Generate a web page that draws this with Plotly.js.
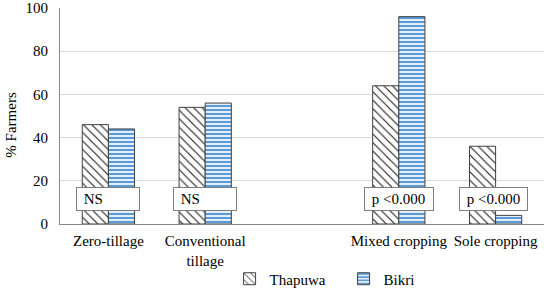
<!DOCTYPE html>
<html>
<head>
<meta charset="utf-8">
<script src="https://cdn.plot.ly/plotly-3.0.1.min.js"></script>
<style>html,body{margin:0;padding:0;background:#fff;}#chart{width:546px;height:290px;}</style>
</head>
<body>
<div id="chart"></div>
<script>
var categories = ["Zero-tillage", "Conventional<br>tillage", " ", "Mixed cropping", "Sole cropping"];
var thapuwa = [46, 54, null, 64, 36];
var bikri = [44, 56, null, 96, 4];
var seriesNames = ["Thapuwa", "Bikri"];
var boxLabels = ["NS", "NS", null, "p <0.000", "p <0.000"];
var boxY = 11.8;

var font = "Liberation Serif";

var traces = [
  {
    type: "bar", name: seriesNames[0], x: categories, y: thapuwa,
    marker: {
      color: "#ffffff",
      line: {color: "#404040", width: 1},
      pattern: {shape: "\\", fgcolor: "#1a1a1a", bgcolor: "#ffffff", size: 6, solidity: 0.18}
    },
    hoverinfo: "skip"
  },
  {
    type: "bar", name: seriesNames[1], x: categories, y: bikri,
    marker: {
      color: "#ffffff",
      line: {color: "#404040", width: 1},
      pattern: {shape: "-", fgcolor: "#5b9bd5", bgcolor: "#e4eef9", size: 4, solidity: 0.5}
    },
    hoverinfo: "skip"
  }
];

var annotations = [];
var boxWidths = [56, 56, 0, 62, 61];
var boxShift = [0, 0, 0, 0, -2];
for (var i = 0; i < categories.length; i++) {
  if (!boxLabels[i]) continue;
  annotations.push({
    x: categories[i], y: boxY, xref: "x", yref: "y",
    text: "&nbsp;" + boxLabels[i], showarrow: false,
    width: boxWidths[i], height: 16, align: "left",
    xshift: boxShift[i],
    bgcolor: "#ffffff", bordercolor: "#7f7f7f", borderwidth: 1, borderpad: 3,
    font: {family: font, size: 15, color: "#000000"}
  });
}
annotations.push({
  xref: "paper", yref: "paper", x: 0, y: 0.46, xshift: -49, xanchor: "center",
  text: "% Farmers", showarrow: false, textangle: -90,
  font: {family: font, size: 15, color: "#000000"}
});

var layout = {
  width: 546, height: 290,
  margin: {l: 60, r: 2, t: 8, b: 66, autoexpand: false},
  paper_bgcolor: "#ffffff", plot_bgcolor: "#ffffff",
  barmode: "group", bargap: 0.46, bargroupgap: 0,
  font: {family: font, size: 15, color: "#000000"},
  xaxis: {
    type: "category", categoryorder: "array", categoryarray: categories,
    showline: true, linecolor: "#868686", linewidth: 1, automargin: false,
    showgrid: false, ticks: "", zeroline: false, ticklabelstandoff: 3,
    tickfont: {family: font, size: 15, color: "#000000"}
  },
  yaxis: {
    range: [0, 100], tickvals: [0, 20, 40, 60, 80, 100], automargin: false,
    showline: true, linecolor: "#868686", linewidth: 1,
    showgrid: true, gridcolor: "#d9d9d9", gridwidth: 1,
    zeroline: false, ticks: "outside", ticklen: 8, tickcolor: "rgba(0,0,0,0)",
    tickfont: {family: font, size: 15, color: "#000000"}
  },
  showlegend: true,
  legend: {
    orientation: "h", xref: "container", yref: "container",
    x: 0.4205, xanchor: "left", y: 0.038, yanchor: "middle",
    font: {family: font, size: 15, color: "#000000"},
    itemwidth: 30, entrywidth: 69, traceorder: "normal"
  },
  annotations: annotations
};

Plotly.newPlot("chart", traces, layout, {displayModeBar: false, staticPlot: true});
</script>
</body>
</html>
